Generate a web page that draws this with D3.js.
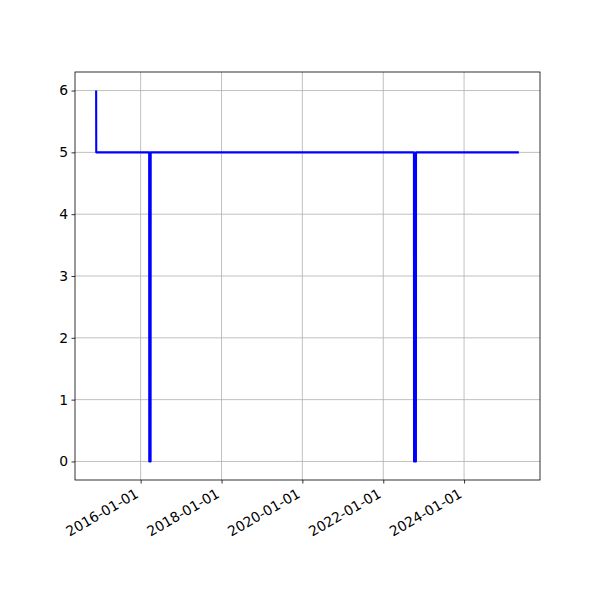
<!DOCTYPE html>
<html><head><meta charset="utf-8">
<script src="https://cdn.jsdelivr.net/npm/d3@7"></script>
<style>body{margin:0;background:#fff}svg{display:block}</style>
</head><body>
<script>
const dates = ["2014-11-25","2014-11-26","2016-03-18","2016-03-19","2016-03-31","2016-04-01","2022-10-05","2022-10-06","2022-10-23","2022-10-24","2025-05-10"];
const values = [6,5,5,0,0,5,5,0,0,5,5];
const xTickLabels = ["2016-01-01","2018-01-01","2020-01-01","2022-01-01","2024-01-01"];
const yTicks = [0,1,2,3,4,5,6];

const parse = d3.utcParse("%Y-%m-%d");
const data = dates.map((d,i)=>({t:parse(d), v:values[i]}));
const W=600,H=600, L=75,R=540,T=72,B=480;
const svg = d3.select("body").append("svg").attr("width",W).attr("height",H);

const ext = d3.extent(data,d=>d.t);
const span = ext[1]-ext[0];
const x = d3.scaleUtc().domain([new Date(+ext[0]-0.05*span), new Date(+ext[1]+0.05*span)]).range([L,R]);
const y = d3.scaleLinear().domain([-0.3,6.3]).range([B,T]);
const xt = xTickLabels.map(parse);
const font = "DejaVu Sans, sans-serif";

// grid
svg.append("g").selectAll("line").data(xt).join("line")
  .attr("x1",d=>x(d)).attr("x2",d=>x(d)).attr("y1",T).attr("y2",B)
  .attr("stroke","#b0b0b0").attr("stroke-width",0.8);
svg.append("g").selectAll("line").data(yTicks).join("line")
  .attr("x1",L).attr("x2",R).attr("y1",d=>y(d)).attr("y2",d=>y(d))
  .attr("stroke","#b0b0b0").attr("stroke-width",0.8);

// line
const line = d3.line().x(d=>x(d.t)).y(d=>y(d.v));
svg.append("path").datum(data).attr("d",line).attr("fill","none")
  .attr("stroke","#0000ff").attr("stroke-width",2.08).attr("stroke-linejoin","round");

// axes
const xa = svg.append("g").attr("transform",`translate(0,${B})`)
  .call(d3.axisBottom(x).tickValues(xt).tickSize(3.5).tickPadding(3.5).tickFormat(d3.utcFormat("%Y-%m-%d")));
xa.select(".domain").remove();
xa.selectAll("line").attr("stroke","#000").attr("stroke-width",0.8);
xa.selectAll("text").attr("font-family",font).attr("font-size",13.9).attr("fill","#000")
  .attr("text-anchor","end").attr("dy",null).attr("y",null)
  .attr("transform","translate(-1.6,16.5) rotate(-30)");

const ya = svg.append("g").attr("transform",`translate(${L},0)`)
  .call(d3.axisLeft(y).tickValues(yTicks).tickSize(3.5).tickPadding(3.5).tickFormat(d3.format("d")));
ya.select(".domain").remove();
ya.selectAll("line").attr("stroke","#000").attr("stroke-width",0.8);
ya.selectAll("text").attr("font-family",font).attr("font-size",13.9).attr("fill","#000");

svg.append("rect").attr("x",L).attr("y",T).attr("width",R-L).attr("height",B-T)
  .attr("fill","none").attr("stroke","#000").attr("stroke-width",0.8);
</script>
</body></html>
